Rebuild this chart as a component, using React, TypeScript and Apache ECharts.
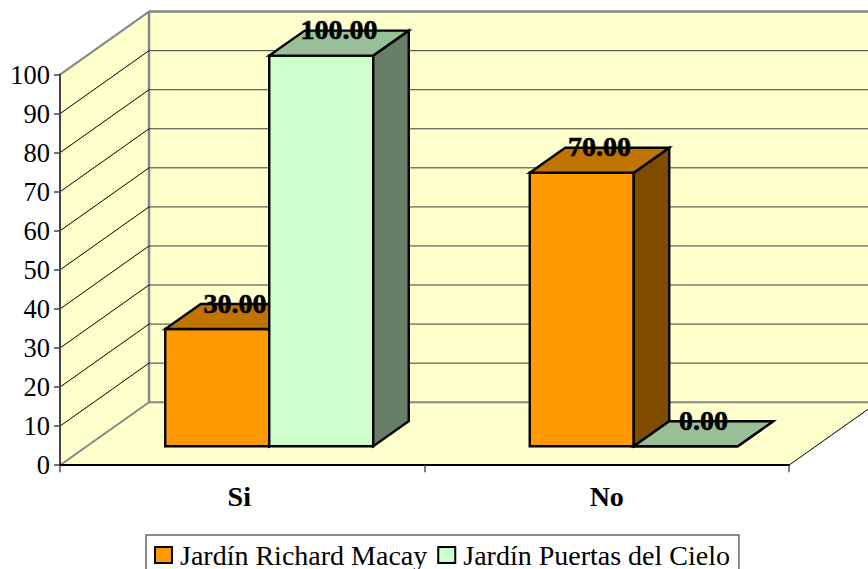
import React, { useEffect, useRef } from "react";
import * as echarts from "echarts";

const categories = ["Si", "No"];
const richardValues = [30, 70];
const puertasValues = [100, 0];
const yTicks = [0, 10, 20, 30, 40, 50, 60, 70, 80, 90, 100];
const seriesNames = ["Jardín Richard Macay", "Jardín Puertas del Cielo"];

const SERIF = "'Liberation Serif', 'Times New Roman', serif";
const WALL_DX = 89;
const WALL_DY = -63;
const BAR_FRONT_DX = 27;
const BAR_FRONT_DY = -19;
const BAR_DX = 35.5;
const BAR_DY = -25;
const BAR_W_RATIO = 104 / 364.5;

const palette = [
  { front: "#FF9900", top: "#BF7300", side: "#7F4C00" },
  { front: "#CCFFCC", top: "#99BF99", side: "#667F66" },
];
const WALL = "#FFFFCC";
const EDGE = "#868686";

function renderWall(params: any, api: any) {
  const tick = api.value(1);
  const catW = api.size([1, 0])[0];
  const p0 = api.coord([0, tick]);
  const left = p0[0] - catW / 2;
  const right = left + catW * categories.length;
  const y = p0[1];
  const children: any[] = [];
  if (tick === 0) {
    const yTop = api.coord([0, 100])[1];
    const back = { x: left + WALL_DX, yB: y + WALL_DY, yT: yTop + WALL_DY };
    const rightBack = right + WALL_DX;
    children.push(
      { type: "polygon", shape: { points: [[back.x, back.yT], [rightBack, back.yT], [rightBack, back.yB], [back.x, back.yB]] }, style: { fill: WALL } },
      { type: "polygon", shape: { points: [[left, y], [back.x, back.yB], [back.x, back.yT], [left, yTop]] }, style: { fill: WALL } },
      { type: "polygon", shape: { points: [[left, y], [right, y], [rightBack, back.yB], [back.x, back.yB]] }, style: { fill: WALL } },
      { type: "line", shape: { x1: right, y1: y, x2: rightBack, y2: back.yB }, style: { stroke: "#000", lineWidth: 1 } },
      { type: "line", shape: { x1: back.x, y1: back.yT, x2: rightBack, y2: back.yT }, style: { stroke: EDGE, lineWidth: 2.5 } },
      { type: "line", shape: { x1: back.x, y1: back.yB, x2: rightBack, y2: back.yB }, style: { stroke: EDGE, lineWidth: 2 } },
      { type: "line", shape: { x1: back.x, y1: back.yT, x2: back.x, y2: back.yB }, style: { stroke: EDGE, lineWidth: 2.5 } },
      { type: "line", shape: { x1: left, y1: y, x2: back.x, y2: back.yB }, style: { stroke: EDGE, lineWidth: 2 } },
      { type: "line", shape: { x1: left, y1: yTop, x2: back.x, y2: back.yT }, style: { stroke: EDGE, lineWidth: 2 } }
    );
  } else if (tick < 100) {
    children.push(
      { type: "line", shape: { x1: left, y1: y, x2: left + WALL_DX, y2: y + WALL_DY }, style: { stroke: "#000", lineWidth: 1 } },
      { type: "line", shape: { x1: left + WALL_DX, y1: y + WALL_DY, x2: right + WALL_DX, y2: y + WALL_DY }, style: { stroke: "#3a3a3a", lineWidth: 1 } }
    );
  }
  return { type: "group", children };
}

function makeBarRenderer(seriesIdx: number) {
  return (params: any, api: any) => {
    const value = api.value(1);
    const catW = api.size([1, 0])[0];
    const barW = catW * BAR_W_RATIO;
    const top = api.coord([api.value(0), value]);
    const base = api.coord([api.value(0), 0]);
    const x0 = top[0] + BAR_FRONT_DX + (seriesIdx - 1) * barW;
    const x1 = x0 + barW;
    const yT = top[1] + BAR_FRONT_DY;
    const yB = base[1] + BAR_FRONT_DY;
    const c = palette[seriesIdx];
    const stroke = { stroke: "#000", lineWidth: 2.4, lineJoin: "miter" };
    return {
      type: "group",
      children: [
        { type: "polygon", shape: { points: [[x0, yT], [x1, yT], [x1, yB], [x0, yB]] }, style: { fill: c.front, ...stroke } },
        { type: "polygon", shape: { points: [[x1, yT], [x1 + BAR_DX, yT + BAR_DY], [x1 + BAR_DX, yB + BAR_DY], [x1, yB]] }, style: { fill: c.side, ...stroke } },
        { type: "polygon", shape: { points: [[x0, yT], [x1, yT], [x1 + BAR_DX, yT + BAR_DY], [x0 + BAR_DX, yT + BAR_DY]] }, style: { fill: c.top, ...stroke } },
        {
          type: "text",
          style: {
            text: value.toFixed(2),
            x: (x0 + x1) / 2 + BAR_DX / 2,
            y: yT + BAR_DY - 1,
            align: "center",
            verticalAlign: "middle",
            fill: "#000",
            stroke: "#000",
            lineWidth: 0.6,
            fontFamily: SERIF,
            fontWeight: "bold",
            fontSize: 28,
          },
        },
      ],
    };
  };
}

export default function App() {
  const ref = useRef<HTMLDivElement>(null);
  useEffect(() => {
    const chart = echarts.init(ref.current!, undefined, { renderer: "svg" });
    const catFont = { color: "#000", fontFamily: SERIF, fontWeight: "bold", fontSize: 28 };
    chart.setOption({
      animation: false,
      backgroundColor: "#fff",
      grid: { left: 60, top: 74.6, width: 729, height: 390.6, containLabel: false },
      xAxis: {
        type: "category",
        data: categories,
        z: 1,
        axisLine: { show: true, lineStyle: { color: "#000", width: 2 } },
        axisTick: { show: true, alignWithLabel: false, length: 7, lineStyle: { color: "#555", width: 1.5 } },
        axisLabel: {
          ...catFont,
          margin: 17,
          formatter: (v: string) => (v === categories[0] ? `{first|${v}}` : `{other|${v}}`),
          rich: {
            first: { ...catFont, padding: [0, 6, 0, 0] },
            other: { ...catFont },
          },
        },
      },
      yAxis: {
        type: "value",
        min: 0,
        max: 100,
        interval: 10,
        z: 1,
        splitLine: { show: false },
        axisLine: { show: true, lineStyle: { color: "#444", width: 2 } },
        axisTick: { show: true, length: 6, lineStyle: { color: "#444", width: 1.5 } },
        axisLabel: { color: "#000", fontFamily: SERIF, fontSize: 26.5, margin: 10 },
      },
      legend: {
        left: 146,
        top: 535,
        orient: "horizontal",
        padding: [6, 9, 12, 8],
        itemGap: 10,
        itemWidth: 17,
        itemHeight: 16,
        icon: "rect",
        backgroundColor: "#fff",
        borderColor: "#666",
        borderWidth: 1.5,
        textStyle: { color: "#000", fontFamily: SERIF, fontSize: 28, lineHeight: 26, height: 26, padding: [0, 0, 0, 3] },
        data: seriesNames.map((name, i) => ({
          name,
          itemStyle: { color: palette[i].front, borderColor: "#000", borderWidth: 2 },
        })),
      },
      series: [
        {
          type: "custom",
          name: "walls",
          z: 0,
          silent: true,
          encode: { x: 0, y: 1 },
          data: yTicks.map((t) => [0, t]),
          renderItem: renderWall,
        },
        {
          type: "custom",
          name: seriesNames[0],
          z: 2,
          encode: { x: 0, y: 1 },
          itemStyle: { color: palette[0].front },
          data: richardValues.map((v, i) => [i, v]),
          renderItem: makeBarRenderer(0),
        },
        {
          type: "custom",
          name: seriesNames[1],
          z: 3,
          encode: { x: 0, y: 1 },
          itemStyle: { color: palette[1].front },
          data: puertasValues.map((v, i) => [i, v]),
          renderItem: makeBarRenderer(1),
        },
      ],
    });
    return () => chart.dispose();
  }, []);
  return <div ref={ref} style={{ position: "absolute", left: 0, top: 0, width: 868, height: 569 }} />;
}
